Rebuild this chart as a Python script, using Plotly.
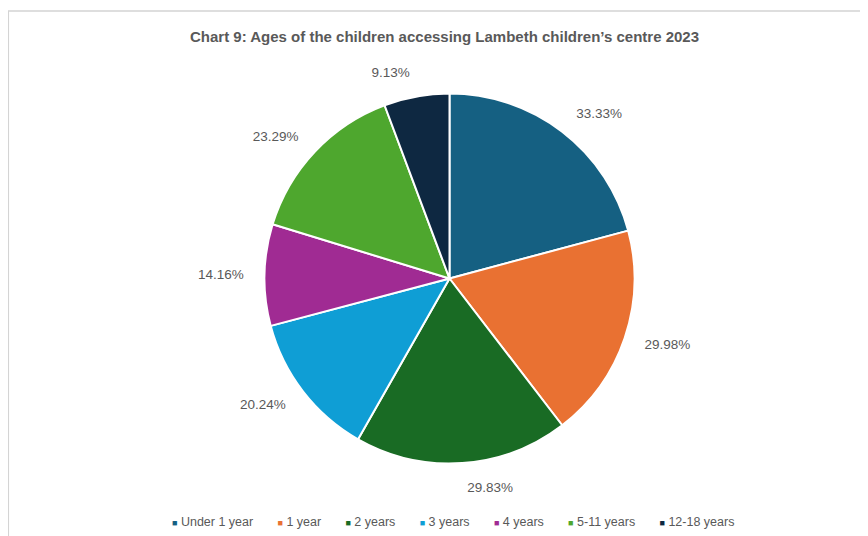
import plotly.graph_objects as go

categories = ["Under 1 year", "1 year", "2 years", "3 years", "4 years", "5-11 years", "12-18 years"]
values = [33.33, 29.98, 29.83, 20.24, 14.16, 23.29, 9.13]
colors = ["#156082", "#E97132", "#196B24", "#0F9ED5", "#A02B93", "#4EA72E", "#0E2841"]
title_text = "Chart 9: Ages of the children accessing Lambeth children\u2019s centre 2023"

W, H = 868, 536
OFF = 8  # page body margin offset
cx, cy = 449.5 - OFF, 278.5 - OFF  # pixel centre (from top)
r_pie = 185
r_lab = 202
FONT = "Liberation Sans, Arial, sans-serif"
GRAY = "#595959"

def dom(r):
    return dict(x=[(cx - r) / W, (cx + r) / W],
                y=[(H - cy - r) / H, (H - cy + r) / H])

fig = go.Figure()
fig.add_trace(go.Pie(
    labels=categories, values=values, sort=False, direction="clockwise", rotation=0,
    marker=dict(colors=colors, line=dict(color="white", width=2)),
    textinfo="none", domain=dom(r_pie), showlegend=False, hoverinfo="label+value",
))
fig.add_trace(go.Pie(
    labels=categories, values=values, sort=False, direction="clockwise", rotation=0,
    marker=dict(colors=["rgba(0,0,0,0)"] * len(values), line=dict(width=0)),
    text=[f"{v:.2f}%" for v in values], textinfo="text", textposition="outside",
    outsidetextfont=dict(family=FONT, size=13.5, color=GRAY),
    domain=dom(r_lab), showlegend=False, hoverinfo="skip",
))

sep = "&nbsp;" * 7
legend_text = sep.join(
    f"<span style='color:{c}; font-size:9px'>\u25A0</span>&nbsp;{cat}"
    for cat, c in zip(categories, colors)
)

fig.update_layout(
    width=W, height=H,
    margin=dict(l=0, r=0, t=0, b=0),
    paper_bgcolor="white", plot_bgcolor="white",
    showlegend=False,
    title=dict(text="<b>" + title_text + "</b>", x=(444.5 - OFF) / W, y=1 - (37 - OFF) / H,
               xanchor="center", yanchor="middle",
               font=dict(family=FONT, size=15, color=GRAY)),
    annotations=[dict(text=legend_text, xref="paper", yref="paper",
                      x=(452.5 - OFF) / W, y=(H - (522 - OFF)) / H,
                      xanchor="center", yanchor="middle", showarrow=False,
                      font=dict(family=FONT, size=12.5, color=GRAY))],
    shapes=[dict(type="rect", xref="paper", yref="paper",
                 x0=0.3 / W, x1=1.2, y0=-0.2, y1=1 - 3 / H,
                 line=dict(color="#d4d4d4", width=1.5))],
)

fig.write_html("out.html")
